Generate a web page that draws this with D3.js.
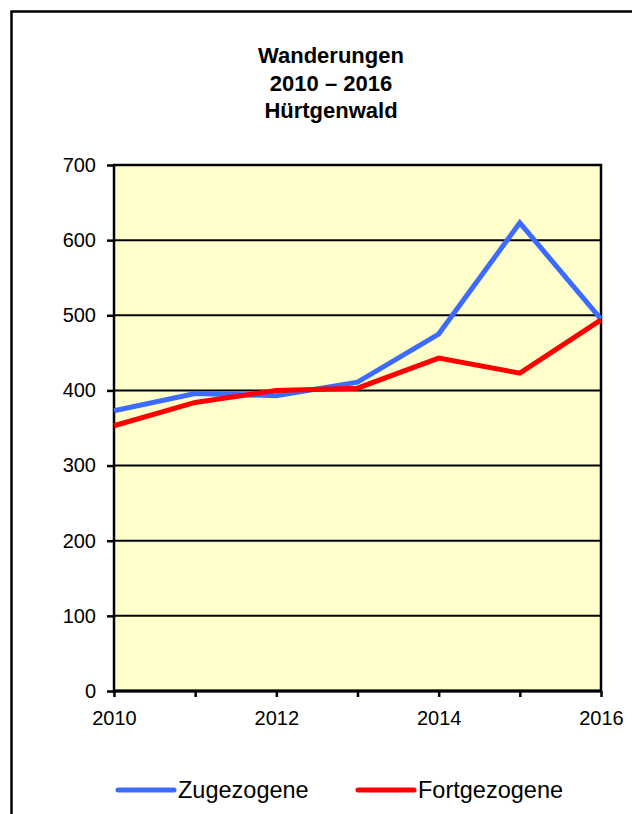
<!DOCTYPE html>
<html><head><meta charset="utf-8">
<script src="https://cdn.jsdelivr.net/npm/d3@7"></script>
<style>body{margin:0;background:#fff}svg{display:block;font-family:Arial,"Liberation Sans",sans-serif}</style>
</head><body>
<svg id="c" width="632" height="814"></svg>
<script>
const years = [2010, 2011, 2012, 2013, 2014, 2015, 2016];
const zugezogene = [373, 396, 393, 411, 475, 623, 495];
const fortgezogene = [353, 384, 400, 403, 443, 423, 494];
const yTicks = [0, 100, 200, 300, 400, 500, 600, 700];
const xLabelYears = [2010, 2012, 2014, 2016];
const titleLines = ["Wanderungen", "2010 – 2016", "Hürtgenwald"];
const seriesNames = ["Zugezogene", "Fortgezogene"];
const seriesColors = ["#3D6BFF", "#FF0000"];

const svg = d3.select("#c");
const m = {left: 114, right: 601, top: 165, bottom: 691};
const FF = "Arial, 'Liberation Sans', sans-serif";

// outer border
svg.append("rect").attr("x", 11.5).attr("y", 11.5).attr("width", 640).attr("height", 820)
  .attr("fill", "none").attr("stroke", "#000").attr("stroke-width", 2.5);

const x = d3.scaleLinear().domain([2010, 2016]).range([m.left, m.right]);
const y = d3.scaleLinear().domain([0, 700]).range([m.bottom, m.top]);

svg.append("rect").attr("x", m.left).attr("y", m.top).attr("width", m.right - m.left)
  .attr("height", m.bottom - m.top).attr("fill", "#FFFFCC");

// gridlines
svg.append("g").selectAll("line").data(yTicks.filter(d => d > 0)).join("line")
  .attr("x1", m.left).attr("x2", m.right).attr("y1", d => y(d)).attr("y2", d => y(d))
  .attr("stroke", "#000").attr("stroke-width", 2);

// plot border
svg.append("rect").attr("x", m.left).attr("y", m.top).attr("width", m.right - m.left)
  .attr("height", m.bottom - m.top).attr("fill", "none").attr("stroke", "#000").attr("stroke-width", 2.5);

// y axis
const ya = svg.append("g").attr("transform", `translate(${m.left},0)`)
  .call(d3.axisLeft(y).tickValues(yTicks).tickSize(7).tickPadding(11).tickFormat(d3.format("d")));
ya.select(".domain").remove();
ya.selectAll("line").attr("stroke", "#000").attr("stroke-width", 2.5);
ya.selectAll("text").attr("font-size", 20).attr("fill", "#000").attr("font-family", FF);

// x axis
const xa = svg.append("g").attr("transform", `translate(0,${m.bottom})`)
  .call(d3.axisBottom(x).tickValues(years).tickSize(6).tickPadding(14)
    .tickFormat(d => xLabelYears.includes(d) ? d : ""));
xa.select(".domain").remove();
xa.selectAll("line").attr("stroke", "#000").attr("stroke-width", 2.5);
xa.selectAll("text").attr("font-size", 20).attr("fill", "#000").attr("font-family", FF);
svg.append("line").attr("x1", m.left).attr("x2", m.right).attr("y1", m.bottom).attr("y2", m.bottom)
  .attr("stroke", "#000").attr("stroke-width", 3);

// lines
const line = d3.line().x((d, i) => x(years[i])).y(d => y(d));
[zugezogene, fortgezogene].forEach((s, k) => {
  svg.append("path").datum(s).attr("d", line).attr("fill", "none")
    .attr("stroke", seriesColors[k]).attr("stroke-width", 5).attr("stroke-linejoin", "miter");
});

// title
svg.append("g").selectAll("text").data(titleLines).join("text")
  .attr("x", 331).attr("y", (d, i) => 63 + i * 27.5).attr("text-anchor", "middle")
  .attr("font-weight", "bold").attr("font-size", 22).text(d => d);

// legend
const leg = [{x: 118, tx: 178}, {x: 358, tx: 418}];
seriesNames.forEach((n, k) => {
  svg.append("line").attr("x1", leg[k].x).attr("x2", leg[k].x + 56).attr("y1", 790).attr("y2", 790)
    .attr("stroke", seriesColors[k]).attr("stroke-width", 5).attr("stroke-linecap", "round");
  svg.append("text").attr("x", leg[k].tx).attr("y", 798).attr("font-size", 23.5).text(n);
});
</script>
</body></html>
